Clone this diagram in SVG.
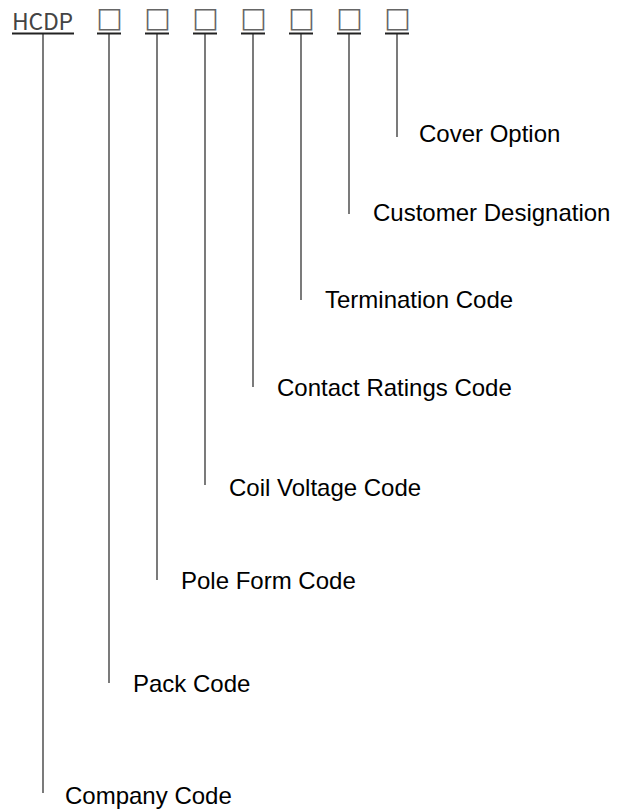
<svg xmlns="http://www.w3.org/2000/svg" width="622" height="812" viewBox="0 0 622 812">
<style>
.code{font-family:"Noto Sans CJK JP","Noto Sans",sans-serif;font-size:23px;fill:#444}
.box{font-family:"DejaVu Sans",sans-serif;font-size:28px;fill:#666}
.ul{stroke:#222;stroke-width:2;fill:none}
.ln{stroke:#222;stroke-width:1.2;fill:none}
.lbl{font-family:"Liberation Sans",Arial,sans-serif;font-size:24px;fill:#000}
</style>
<rect width="622" height="812" fill="#fff"/>
<g id="header">
<text class="code" x="12" y="30" textLength="61">HCDP</text>
<text class="box" x="109.5" y="27" text-anchor="middle">□</text>
<text class="box" x="157.5" y="27" text-anchor="middle">□</text>
<text class="box" x="205.5" y="27" text-anchor="middle">□</text>
<text class="box" x="253.5" y="27" text-anchor="middle">□</text>
<text class="box" x="301.5" y="27" text-anchor="middle">□</text>
<text class="box" x="349.5" y="27" text-anchor="middle">□</text>
<text class="box" x="397.5" y="27" text-anchor="middle">□</text>
<line class="ul" x1="12" y1="33.5" x2="74" y2="33.5"/>
<line class="ul" x1="97" y1="33.5" x2="121" y2="33.5"/>
<line class="ul" x1="145" y1="33.5" x2="169" y2="33.5"/>
<line class="ul" x1="193" y1="33.5" x2="217" y2="33.5"/>
<line class="ul" x1="241" y1="33.5" x2="265" y2="33.5"/>
<line class="ul" x1="289" y1="33.5" x2="313" y2="33.5"/>
<line class="ul" x1="337" y1="33.5" x2="361" y2="33.5"/>
<line class="ul" x1="385" y1="33.5" x2="409" y2="33.5"/>
</g>
<g id="connectors">
<line class="ln" x1="43" y1="34" x2="43" y2="793"/>
<line class="ln" x1="109" y1="34" x2="109" y2="683"/>
<line class="ln" x1="157" y1="34" x2="157" y2="580"/>
<line class="ln" x1="205" y1="34" x2="205" y2="485"/>
<line class="ln" x1="253" y1="34" x2="253" y2="387"/>
<line class="ln" x1="301" y1="34" x2="301" y2="300"/>
<line class="ln" x1="349" y1="34" x2="349" y2="214"/>
<line class="ln" x1="397" y1="34" x2="397" y2="137"/>
</g>
<g id="cover-option"><text class="lbl" x="419" y="142">Cover Option</text></g>
<g id="customer-designation"><text class="lbl" x="373" y="221">Customer Designation</text></g>
<g id="termination-code"><text class="lbl" x="325" y="308">Termination Code</text></g>
<g id="contact-ratings-code"><text class="lbl" x="277" y="396">Contact Ratings Code</text></g>
<g id="coil-voltage-code"><text class="lbl" x="229" y="496">Coil Voltage Code</text></g>
<g id="pole-form-code"><text class="lbl" x="181" y="589">Pole Form Code</text></g>
<g id="pack-code"><text class="lbl" x="133" y="692">Pack Code</text></g>
<g id="company-code"><text class="lbl" x="65" y="804">Company Code</text></g>
</svg>
